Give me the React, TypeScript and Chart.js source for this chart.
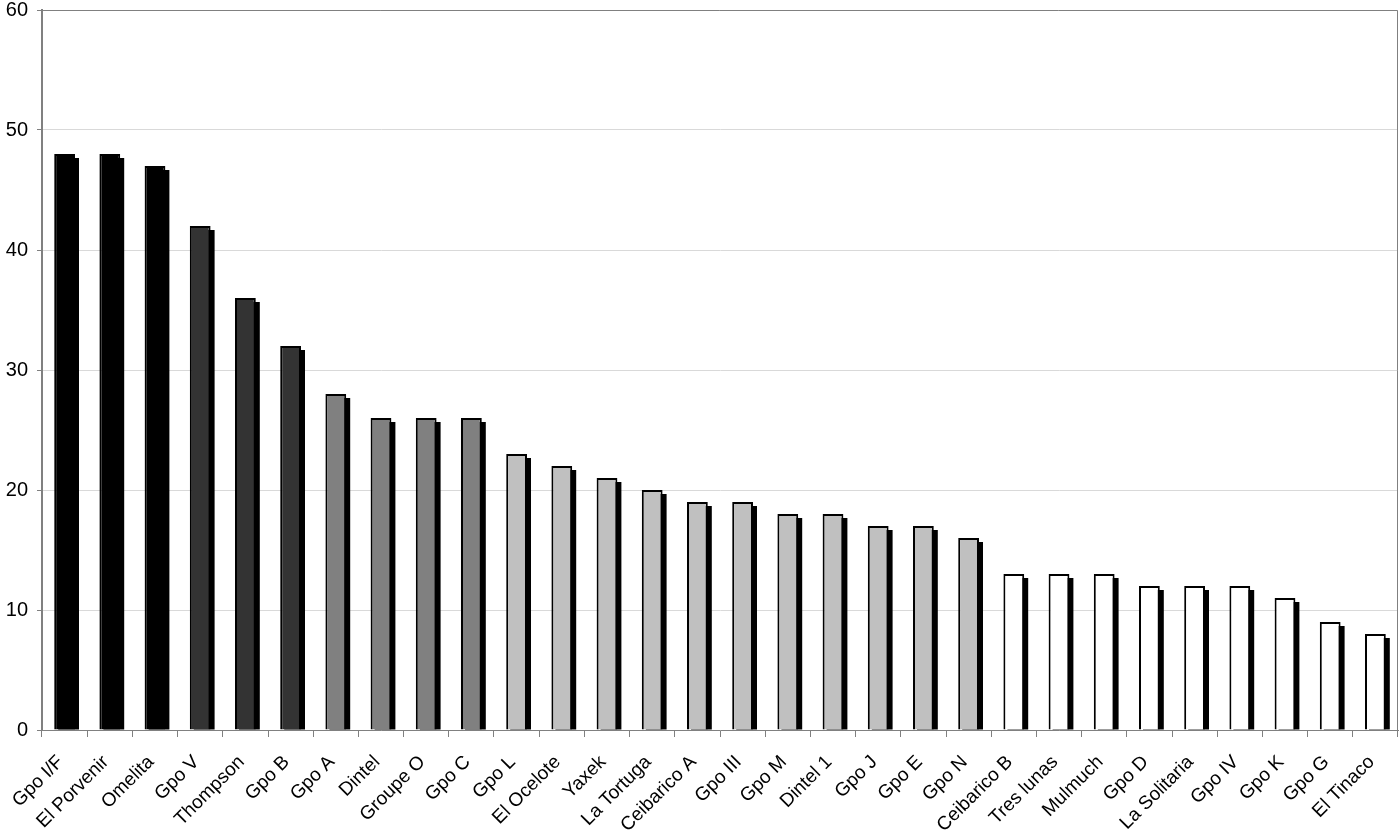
import React, { useEffect, useRef } from "react";
import { Chart, registerables } from "chart.js";

Chart.register(...registerables);

const categories = [
  "Gpo I/F", "El Porvenir", "Omelita", "Gpo V", "Thompson", "Gpo B", "Gpo A", "Dintel", "Groupe O", "Gpo C",
  "Gpo L", "El Ocelote", "Yaxek", "La Tortuga", "Ceibarico A", "Gpo III", "Gpo M", "Dintel 1", "Gpo J", "Gpo E",
  "Gpo N", "Ceibarico B", "Tres lunas", "Mulmuch", "Gpo D", "La Solitaria", "Gpo IV", "Gpo K", "Gpo G", "El Tinaco",
];
const values = [48, 48, 47, 42, 36, 32, 28, 26, 26, 26, 23, 22, 21, 20, 19, 19, 18, 18, 17, 17, 16, 13, 13, 13, 12, 12, 12, 11, 9, 8];
const groups = [0, 0, 0, 1, 1, 1, 2, 2, 2, 2, 3, 3, 3, 3, 3, 3, 3, 3, 3, 3, 3, 4, 4, 4, 4, 4, 4, 4, 4, 4];
const yTicks = [0, 10, 20, 30, 40, 50, 60];

const palette = ["#000000", "#333333", "#808080", "#c0c0c0", "#ffffff"];
const FONT = "'Liberation Sans', Arial, sans-serif";

const shadowPlugin = {
  id: "shadowPlugin",
  beforeDatasetsDraw(chart: any) {
    const ctx = chart.ctx;
    const meta = chart.getDatasetMeta(0);
    const area = chart.chartArea;
    ctx.save();
    ctx.beginPath();
    ctx.rect(area.left, area.top, area.right - area.left, area.bottom - area.top);
    ctx.clip();
    ctx.fillStyle = "#000000";
    meta.data.forEach((bar: any) => {
      const p = bar.getProps(["x", "y", "base", "width"], true);
      const left = p.x - p.width / 2 + 4;
      const top = p.y + 4;
      ctx.fillRect(left, top, p.width, p.base - top);
    });
    ctx.restore();
  },
  afterDraw(chart: any) {
    const ctx = chart.ctx;
    const a = chart.chartArea;
    ctx.save();
    ctx.strokeStyle = "#808080";
    ctx.lineWidth = 1;
    ctx.beginPath();
    ctx.moveTo(a.left, a.top + 0.5);
    ctx.lineTo(a.right - 0.5, a.top + 0.5);
    ctx.lineTo(a.right - 0.5, a.bottom);
    ctx.stroke();
    ctx.restore();
  },
};

export default function App() {
  const ref = useRef<HTMLCanvasElement>(null);
  useEffect(() => {
    if (!ref.current) return;
    const chart = new Chart(ref.current, {
      type: "bar",
      data: {
        labels: categories,
        datasets: [
          {
            data: values,
            backgroundColor: groups.map((g) => palette[g]),
            borderColor: "#000000",
            borderWidth: 2,
            barPercentage: 0.46,
            categoryPercentage: 1,
          },
        ],
      },
      options: {
        animation: false,
        responsive: false,
        maintainAspectRatio: false,
        layout: { padding: { top: 10, right: 2, left: 0, bottom: 0 } },
        plugins: { legend: { display: false }, tooltip: { enabled: false } },
        scales: {
          x: {
            grid: {
              offset: true,
              drawOnChartArea: false,
              drawTicks: true,
              tickLength: 7,
              color: "#808080",
            },
            border: { color: "#808080", width: 1 },
            ticks: {
              color: "#000000",
              font: { family: FONT, size: 19 },
              minRotation: 45,
              maxRotation: 45,
              autoSkip: false,
              padding: 14,
              labelOffset: -4,
            },
            afterFit(scale: any) {
              scale.height = 110;
              scale.paddingLeft = 0;
              scale.paddingRight = 0;
            },
          },
          y: {
            min: 0,
            max: 60,
            afterBuildTicks(scale: any) {
              scale.ticks = yTicks.map((v) => ({ value: v }));
            },
            grid: {
              color: "#d9d9d9",
              tickLength: 5,
              tickColor: "#808080",
              lineWidth: 1,
            },
            border: { color: "#808080", width: 2 },
            ticks: {
              color: "#000000",
              font: { family: FONT, size: 20 },
              padding: 9,
            },
            afterFit(scale: any) {
              scale.width = 42;
              scale.paddingTop = 0;
              scale.paddingBottom = 0;
            },
          },
        },
      },
      plugins: [shadowPlugin],
    });
    return () => chart.destroy();
  }, []);
  return (
    <div style={{ position: "absolute", left: 0, top: 0, width: 1400, height: 840, background: "#fff" }}>
      <canvas ref={ref} width={1400} height={840} />
    </div>
  );
}
